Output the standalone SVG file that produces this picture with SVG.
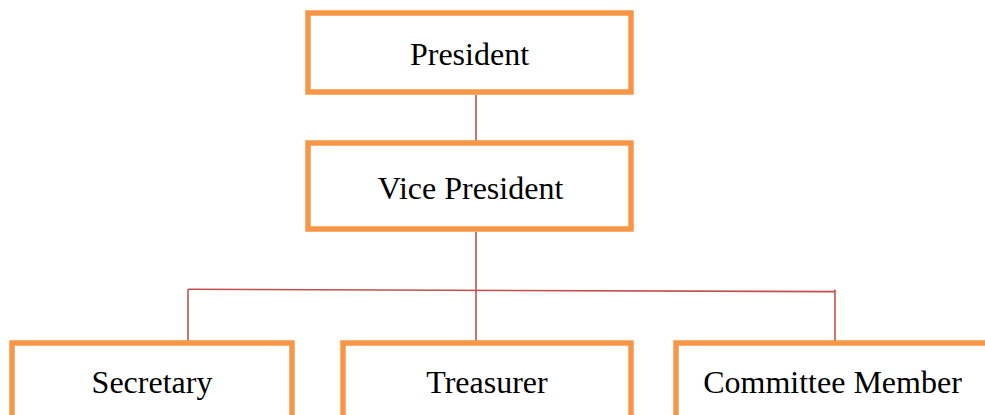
<svg xmlns="http://www.w3.org/2000/svg" width="985" height="415" viewBox="0 0 985 415">
<style>
.box{fill:#FFFFFF;stroke:#F79646;stroke-width:5.5}
.lbl{font-family:"Liberation Serif","Times New Roman",serif;font-size:32px;fill:#000000;text-anchor:middle}
.conn{fill:none;stroke:#C0504D;stroke-width:1.6}
</style>
<rect width="985" height="415" fill="#FFFFFF"/>
<g id="connectors">
<line class="conn" x1="476" y1="95" x2="476" y2="141"/>
<line class="conn" x1="476" y1="232" x2="476" y2="341"/>
<line class="conn" x1="188" y1="289.3" x2="835" y2="291.6"/>
<line class="conn" x1="188" y1="289.3" x2="188" y2="341"/>
<line class="conn" x1="835" y1="289.5" x2="835" y2="341"/>
</g>
<g id="president">
<rect class="box" x="308" y="13" width="323" height="79"/>
<text class="lbl" x="469.5" y="65">President</text>
</g>
<g id="vice-president">
<rect class="box" x="308" y="143" width="323" height="86"/>
<text class="lbl" x="470.5" y="199">Vice President</text>
</g>
<g id="secretary">
<rect class="box" x="12" y="343" width="280" height="100"/>
<text class="lbl" x="152" y="393">Secretary</text>
</g>
<g id="treasurer">
<rect class="box" x="343" y="343" width="288" height="100"/>
<text class="lbl" x="487" y="393">Treasurer</text>
</g>
<g id="committee-member">
<rect class="box" x="676" y="343" width="313" height="100"/>
<text class="lbl" x="832.5" y="393">Committee Member</text>
</g>
</svg>
